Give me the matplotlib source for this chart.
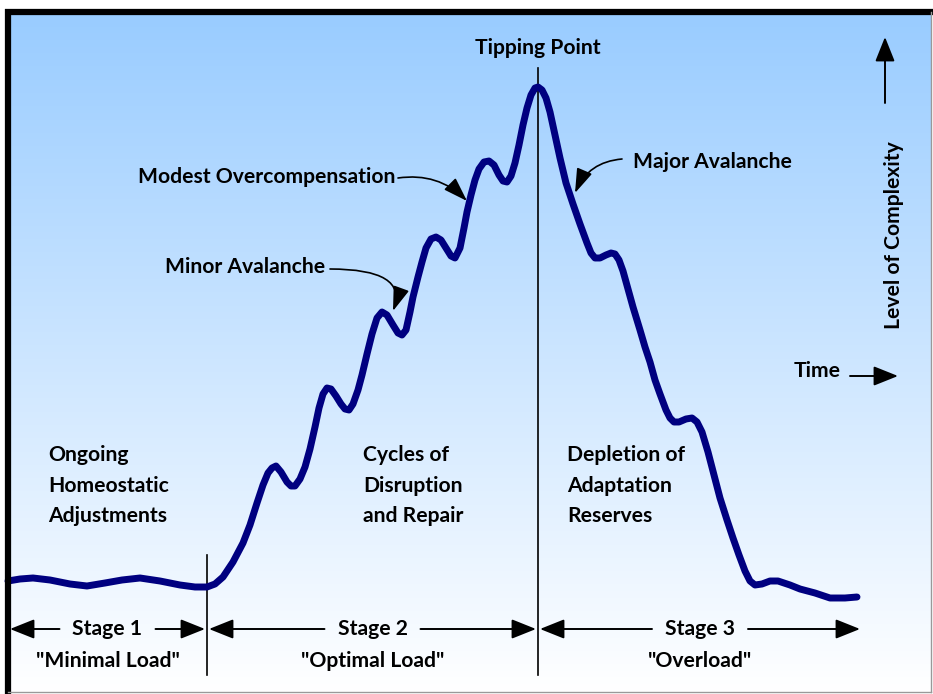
import matplotlib.pyplot as plt
import numpy as np

# curve: time (px across) and depth (px down from top)
time = [8, 20, 33, 50, 70, 87, 105, 122, 140, 160, 180, 195, 207, 215, 223, 233, 243, 250, 257, 263,
        268, 272, 276, 281, 287, 291, 295, 300, 305, 310, 315, 319, 323, 327, 331, 336, 341, 345, 349, 353,
        358, 362, 367, 372, 377, 382, 387, 393, 398, 402, 406, 410, 413, 418, 422, 426, 431, 436, 441, 446,
        451, 455, 460, 464, 467, 471, 475, 479, 484, 489, 494, 499, 503, 507, 511, 515, 519, 523, 527, 531,
        535, 538, 542, 546, 550, 555, 560, 566, 573, 580, 587, 591, 595, 600, 606, 611, 615, 619, 623, 628,
        633, 640, 645, 650, 655, 660, 666, 670, 674, 679, 686, 692, 697, 702, 708, 714, 720, 727, 733, 739,
        745, 750, 755, 762, 770, 778, 790, 800, 815, 830, 845, 857]
depth = [581, 579, 578, 580, 584, 586, 583, 580, 578, 581, 585, 587, 587, 584, 577, 562, 543, 525, 503, 485,
         473, 468, 466, 472, 482, 486, 486, 479, 467, 449, 427, 408, 394, 388, 389, 396, 404, 409, 410, 404,
         390, 375, 354, 334, 318, 312, 315, 325, 333, 335, 330, 312, 297, 277, 262, 248, 239, 237, 240, 248,
         256, 258, 248, 228, 212, 195, 180, 169, 162, 161, 165, 175, 181, 182, 176, 163, 145, 125, 108, 95,
         88, 87, 90, 98, 112, 135, 158, 183, 204, 224, 243, 253, 258, 258, 255, 253, 254, 260, 271, 289,
         307, 330, 347, 362, 380, 394, 410, 418, 422, 422, 419, 418, 422, 432, 452, 475, 498, 520, 538, 555,
         571, 581, 585, 584, 581, 581, 585, 589, 593, 598, 598, 597]
level = [694 - d for d in depth]

stage_names = ["Stage 1", "Stage 2", "Stage 3"]
stage_loads = ['"Minimal Load"', '"Optimal Load"', '"Overload"']
stage_text = ["Ongoing\nHomeostatic\nAdjustments", "Cycles of\nDisruption\nand Repair",
              "Depletion of\nAdaptation\nReserves"]
stage_bounds = [(10, 205), (209, 536), (540, 860)]
text_x = [48, 363, 567]

plt.rcParams['font.family'] = ['Lato', 'DejaVu Sans']
fig = plt.figure(figsize=(9.33, 6.94), dpi=100)
ax = fig.add_axes([0, 0, 1, 1])
ax.set_xlim(0, 933)
ax.set_ylim(0, 694)
ax.axis('off')

# gradient background, light blue at top to white at bottom
grad = np.linspace(0, 1, 256).reshape(-1, 1)
top = np.array([153, 204, 255]) / 255
cols = top + (1 - top) * grad[..., None]
ax.imshow(cols, extent=(8, 931, 2, 682), origin='upper', aspect='auto', zorder=0)

# frame
ax.plot([5, 933], [682, 682], color='black', lw=4.5, solid_capstyle='butt', zorder=5)
ax.plot([8, 8], [0, 685], color='black', lw=4.5, solid_capstyle='butt', zorder=5)
ax.plot([931, 931], [2, 682], color='#999999', lw=1, zorder=5)
ax.plot([8, 931], [2, 2], color='#999999', lw=1, zorder=5)

ax.plot(time, level, color='#000080', lw=5, solid_capstyle='round', solid_joinstyle='round', zorder=3)

# stage boundaries
ax.plot([207, 207], [19, 139], color='black', lw=1.2, zorder=2)
ax.plot([538, 538], [19, 626], color='black', lw=1.2, zorder=2)

fs = 15.2
arrow_y = 694 - 629
hs = dict(arrowstyle='-|>,head_length=1.5,head_width=0.6', color='black', lw=1.4, shrinkA=0, shrinkB=0)
for (a, b), name, load in zip(stage_bounds, stage_names, stage_loads):
    mid = (a + b) / 2
    half = 48
    ax.annotate('', xy=(a, arrow_y), xytext=(mid - half, arrow_y), arrowprops=hs)
    ax.annotate('', xy=(b, arrow_y), xytext=(mid + half, arrow_y), arrowprops=hs)
    ax.text(mid, arrow_y, name, ha='center', va='center', fontsize=fs, fontweight='bold')
    ax.text(mid, 694 - 661, load, ha='center', va='center', fontsize=fs, fontweight='bold')

for x, txt in zip(text_x, stage_text):
    for i, line in enumerate(txt.split('\n')):
        ax.text(x, 694 - 455 - 30.5 * i, line, ha='left', va='center', fontsize=fs, fontweight='bold')

ax.text(538, 694 - 48, "Tipping Point", ha='center', va='center', fontsize=fs, fontweight='bold')

cs = dict(arrowstyle='-|>,head_length=1.5,head_width=0.5', color='black', lw=1.2, shrinkA=0, shrinkB=0)
ax.text(395, 694 - 177, "Modest Overcompensation", ha='right', va='center', fontsize=fs, fontweight='bold')
ax.annotate('', xy=(467, 694 - 201), xytext=(398, 694 - 178),
            arrowprops=dict(cs, connectionstyle='arc3,rad=-0.25'))
ax.text(325, 694 - 267, "Minor Avalanche", ha='right', va='center', fontsize=fs, fontweight='bold')
ax.annotate('', xy=(393, 694 - 311), xytext=(330, 694 - 269),
            arrowprops=dict(cs, connectionstyle='angle3,angleA=0,angleB=70'))
ax.text(633, 694 - 162, "Major Avalanche", ha='left', va='center', fontsize=fs, fontweight='bold')
ax.annotate('', xy=(575, 694 - 193), xytext=(622, 694 - 159),
            arrowprops=dict(cs, connectionstyle='arc3,rad=0.3'))

ax.text(841, 694 - 371, "Time", ha='right', va='center', fontsize=fs, fontweight='bold')
ax.annotate('', xy=(898, 694 - 376), xytext=(850, 694 - 376), arrowprops=hs)
ax.annotate('', xy=(885, 694 - 37), xytext=(885, 694 - 103), arrowprops=hs)
ax.text(894, 694 - 235, "Level of Complexity", ha='center', va='center', rotation=90,
        fontsize=fs, fontweight='bold')

fig.savefig('out.png', dpi=100)
